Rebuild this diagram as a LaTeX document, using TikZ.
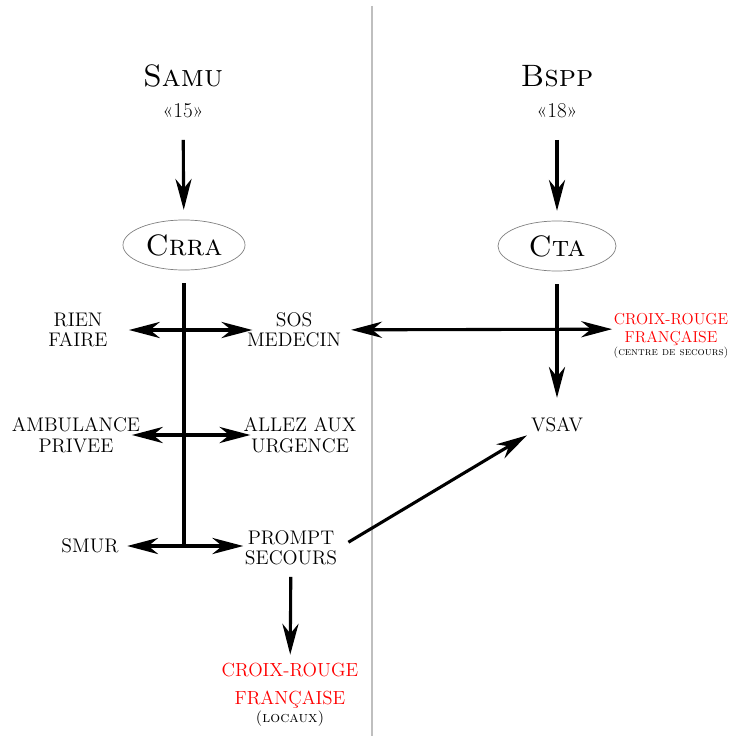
\documentclass[tikz,border=0pt]{standalone}
\usepackage{fontspec}
\usetikzlibrary{arrows.meta,shapes.geometric}

\tikzset{
  pointe/.tip={Stealth[length=22pt,width=11.5pt,inset=7pt]},
  fleche/.style={line width=2.2pt, -pointe},
  doublefleche/.style={line width=2.2pt, pointe-pointe},
  trait/.style={line width=2.2pt},
  separateur/.style={gray!50, line width=1pt},
  titre/.style={font=\fontsize{22}{24}\selectfont\scshape},
  numero/.style={font=\fontsize{15}{18}\selectfont},
  centre/.style={ellipse, draw=gray, line width=0.5pt, minimum width=3.05cm,
    minimum height=1.25cm, font=\fontsize{21}{24}\selectfont\scshape},
  etiquette/.style={align=center, inner sep=1pt, font=\fontsize{14}{14.5}\selectfont},
  croix/.style={align=center, inner sep=1pt, text=red, font=\fontsize{13.5}{20}\selectfont},
  croixpetit/.style={align=center, inner sep=1pt, text=red, font=\fontsize{11.3}{12.8}\selectfont},
  sous/.style={inner sep=1pt, font=\fontsize{11}{12}\selectfont\scshape},
  souspetit/.style={inner sep=1pt, font=\fontsize{8}{9}\selectfont\scshape},
}

\begin{document}
\begin{tikzpicture}[x=0.025cm, y=-0.025cm]
  \useasboundingbox (0,0) rectangle (732,736);

  % Separation
  \draw[separateur] (372,6) -- (372,736);

  % Samu
  \node[titre] (samu) at (183,76) {Samu};
  \node[numero] (quinze) at (183,111) {«15»};
  \node[centre] (crra) at (184,245) {Crra};
  \draw[fleche, shorten <=12pt, shorten >=7pt] (quinze) -- (crra);

  % Bspp
  \node[titre] (bspp) at (557,76) {Bspp};
  \node[numero] (dixhuit) at (557,111) {«18»};
  \node[centre, minimum width=2.95cm] (cta) at (557,246) {Cta};
  \draw[fleche, shorten <=12pt, shorten >=7pt] (dixhuit) -- (cta);

  % Choix du Crra
  \node[etiquette] (rien) at (78,330) {RIEN\\FAIRE};
  \node[etiquette] (sos) at (294,330) {SOS\\MEDECIN};
  \node[etiquette] (ambulance) at (76,435) {AMBULANCE\\PRIVEE};
  \node[etiquette] (urgence) at (300,435) {ALLEZ AUX\\URGENCE};
  \node[etiquette] (smur) at (90,546) {SMUR};
  \node[etiquette] (prompt) at (291,548) {PROMPT\\SECOURS};
  \coordinate (pied) at (184,546);

  \draw[trait, shorten <=9pt] (crra) -- (pied);
  \draw[doublefleche, shorten <=14pt, shorten >=-5pt] (rien) -- (sos);
  \draw[doublefleche, shorten <=-7pt, shorten >=-6pt] (ambulance) -- (urgence);
  \draw[doublefleche, shorten <=5pt] (smur) -- (prompt.west |- pied);

  % Croix-Rouge (locaux)
  \node[croix] (crfl) at (290,686) {CROIX-ROUGE\\FRANÇAISE};
  \node[sous] (locaux) at (290,719) {(locaux)};
  \draw[fleche, shorten <=7pt, shorten >=5pt] (prompt) -- (crfl);

  % Cote Bspp
  \node[croixpetit] (crfcs) at (671,329) {CROIX-ROUGE\\FRANÇAISE};
  \node[souspetit] (cds) at (671,353) {(centre de secours)};
  \node[etiquette] (vsav) at (557,425) {VSAV};

  \draw[doublefleche, shorten <=6pt] (sos) -- (crfcs);
  \draw[fleche, shorten <=9pt, shorten >=13pt] (cta) -- (vsav);
  \draw[fleche, shorten <=8pt, shorten >=2pt] (prompt.east) -- (vsav.south west);
\end{tikzpicture}
\end{document}
